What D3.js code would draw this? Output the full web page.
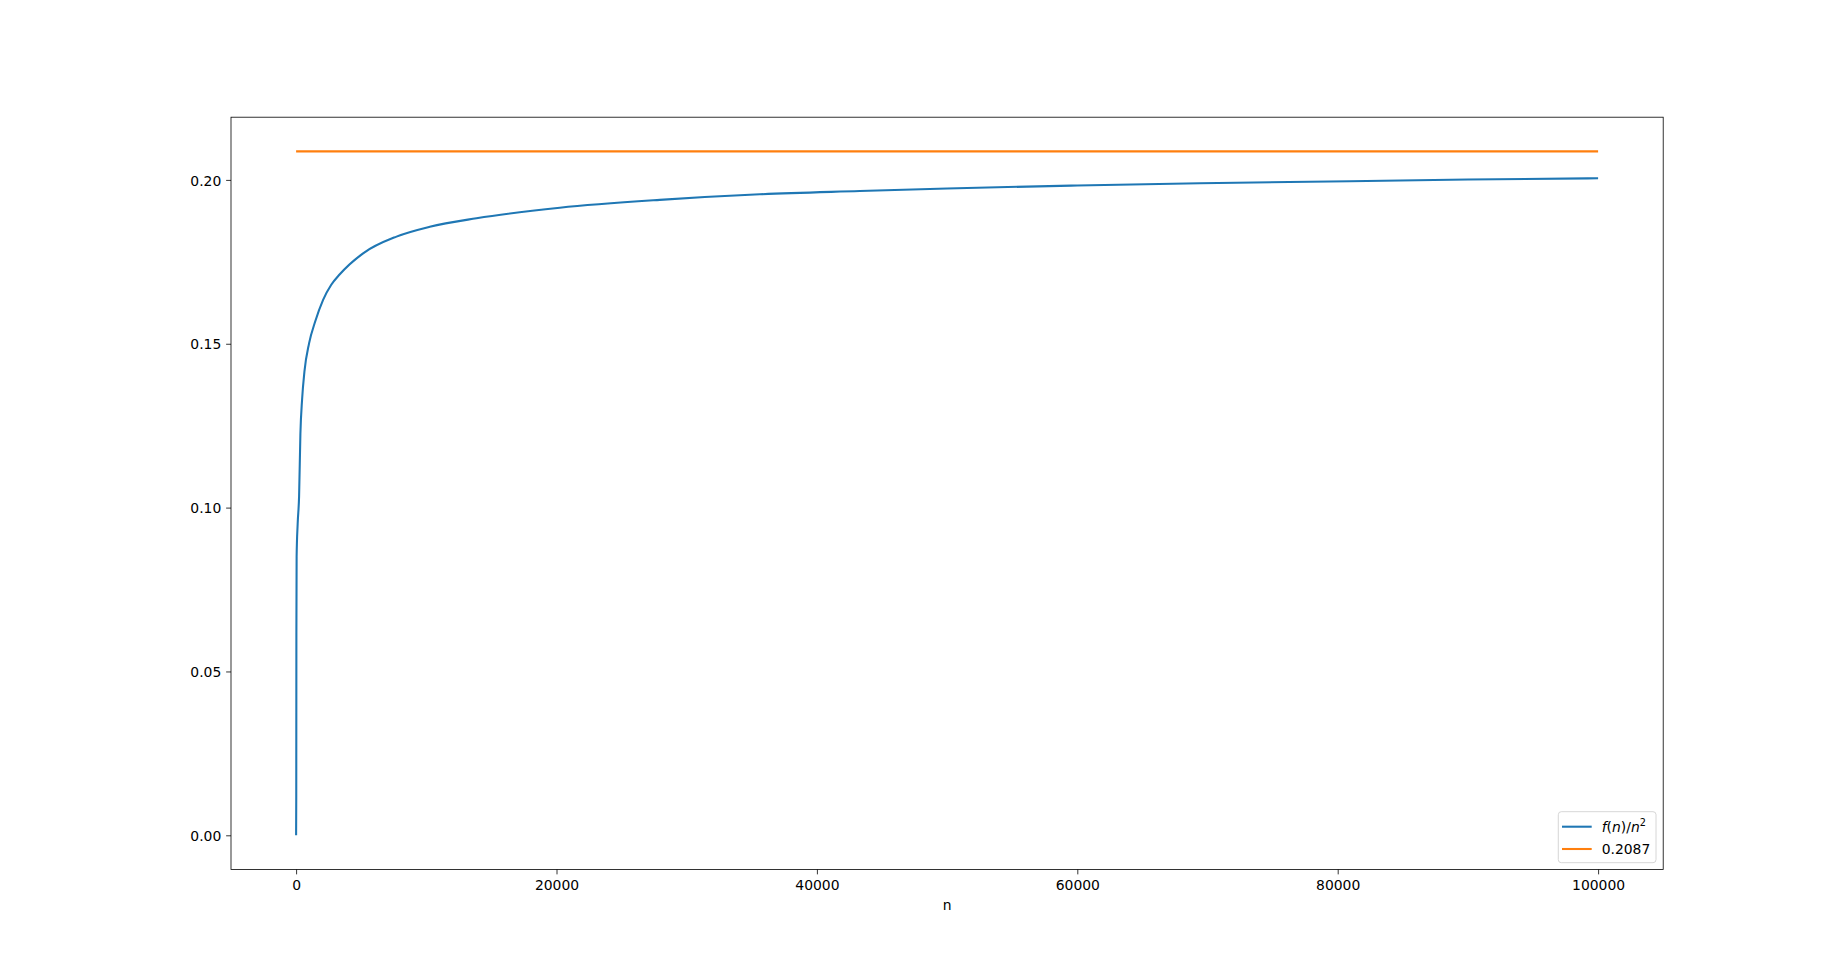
<!DOCTYPE html>
<html>
<head>
<meta charset="utf-8">
<script src="https://cdn.jsdelivr.net/npm/d3@7"></script>
<style>
  body { margin: 0; background: #fff; }
  text { font-family: "DejaVu Sans", sans-serif; font-size: 13.9px; fill: #000; }
</style>
</head>
<body>
<svg id="chart" width="1848" height="977"></svg>
<script>
const ns = [0, 12, 22, 40, 120, 230, 330, 460, 640, 1000, 1460, 2074, 2700, 3356, 5146, 7711,
  10269, 13856, 20253, 27934, 35615, 43295, 50000, 60000, 69409, 80937, 90000, 100000];
const ratio = [0.000, 0.012, 0.062, 0.085, 0.095, 0.1035, 0.1225, 0.133, 0.1415, 0.1502, 0.1567,
  0.1634, 0.1680, 0.1712, 0.1776, 0.1827, 0.1857, 0.1883, 0.1915, 0.1939, 0.1956, 0.1966, 0.1974,
  0.1983, 0.1990, 0.1996, 0.2001, 0.2005];
const limit = 0.2087;
const limitRange = [0, 100000];
const xTicks = [0, 20000, 40000, 60000, 80000, 100000];
const yTicks = [0.00, 0.05, 0.10, 0.15, 0.20];
const labels = ["f(n)/n^2", "0.2087"];

const box = {left: 231, right: 1663.2, top: 117.2, bottom: 869.5};
const blue = "#1f77b4", orange = "#ff7f0e";

function draw() {
  const svg = d3.select("#chart");
  const x = d3.scaleLinear().domain([-5000, 105000]).range([box.left, box.right]);
  const y = d3.scaleLinear().domain([-0.010435, 0.219135]).range([box.bottom, box.top]);

  const plot = svg.append("g");
  const pts = ns.map((n, i) => [n, ratio[i]]);
  const line = d3.line().x(d => x(d[0])).y(d => y(d[1])).curve(d3.curveMonotoneX);
  plot.append("path")
    .attr("d", line(pts))
    .attr("fill", "none")
    .attr("stroke", blue)
    .attr("stroke-width", 2.08)
    .attr("stroke-linejoin", "round");
  plot.append("path")
    .attr("d", line(limitRange.map(n => [n, limit])))
    .attr("fill", "none")
    .attr("stroke", orange)
    .attr("stroke-width", 2.08);

  // frame
  svg.append("rect")
    .attr("x", box.left).attr("y", box.top)
    .attr("width", box.right - box.left).attr("height", box.bottom - box.top)
    .attr("fill", "none").attr("stroke", "#000").attr("stroke-width", 0.8);

  const xAxis = d3.axisBottom(x).tickValues(xTicks).tickFormat(d3.format("d"))
    .tickSize(4.86).tickPadding(4.86);
  const gx = svg.append("g").attr("transform", `translate(0,${box.bottom})`).call(xAxis);
  const yAxis = d3.axisLeft(y).tickValues(yTicks).tickFormat(d3.format(".2f"))
    .tickSize(4.86).tickPadding(4.86);
  const gy = svg.append("g").attr("transform", `translate(${box.left},0)`).call(yAxis);
  for (let g of [gx, gy]) {
    g.select(".domain").remove();
    g.selectAll("line").attr("stroke", "#000").attr("stroke-width", 0.8);
    g.selectAll("text").attr("font-family", "DejaVu Sans").attr("font-size", 13.9).attr("fill", "#000");
  }
  gx.selectAll("text").attr("dy", null).attr("y", 20.5);
  gy.selectAll("text").attr("dy", null).attr("y", 5.2);

  svg.append("text")
    .attr("x", (box.left + box.right) / 2).attr("y", 910)
    .attr("text-anchor", "middle").text("n");

  drawLegend(svg);
}

function drawLegend(svg) {
  const lg = svg.append("g");
  lg.append("rect")
    .attr("x", 1558.3).attr("y", 811.7).attr("width", 97.7).attr("height", 51)
    .attr("rx", 3).attr("fill", "#fff").attr("fill-opacity", 0.8)
    .attr("stroke", "#cccccc").attr("stroke-width", 0.8);
  const rows = [826.7, 849];
  [blue, orange].forEach((c, i) => {
    lg.append("line")
      .attr("x1", 1562).attr("x2", 1591.7).attr("y1", rows[i]).attr("y2", rows[i])
      .attr("stroke", c).attr("stroke-width", 2.08);
  });
  // f(n)/n^2 as mathtext-like pieces
  const t = lg.append("text").attr("x", 1601.7).attr("y", rows[0] + 5);
  t.append("tspan").attr("font-style", "italic").text("f");
  t.append("tspan").text("(");
  t.append("tspan").attr("font-style", "italic").text("n");
  t.append("tspan").text(")/");
  t.append("tspan").attr("font-style", "italic").text("n");
  t.append("tspan").attr("font-size", 9.7).attr("dy", -5.5).text("2");
  lg.append("text").attr("x", 1601.7).attr("y", rows[1] + 5).text(labels[1]);
}

draw();
</script>
</body>
</html>
